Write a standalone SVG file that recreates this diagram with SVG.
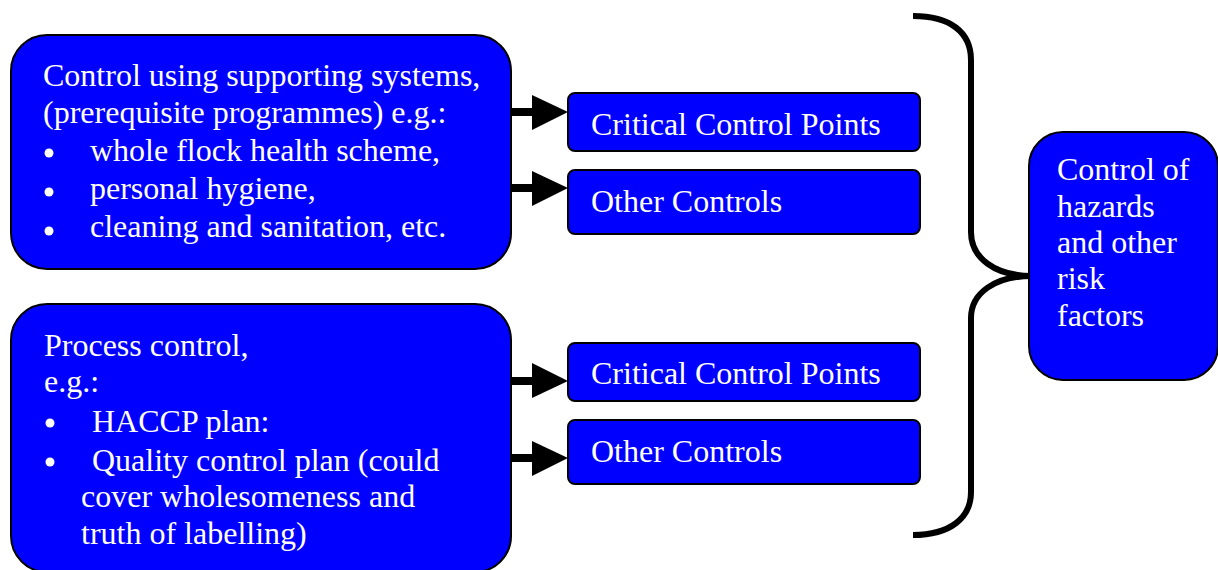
<svg xmlns="http://www.w3.org/2000/svg" width="1218" height="570" viewBox="0 0 1218 570">
<style>
.box{fill:#0000ff;stroke:#000;stroke-width:2}
.t{font-size:32px;fill:#fff}
.dot{fill:#fff}
.conn{stroke:#000;stroke-width:8;fill:none}
.head{fill:#000}
.brace{stroke:#000;stroke-width:6;fill:none;stroke-linecap:butt}
</style>
<rect width="1218" height="570" fill="#fff"/>
<g id="connectors">
<line class="conn" x1="511" y1="112" x2="534" y2="112"/>
<polygon class="head" points="532,95 568,112 532,130"/>
<line class="conn" x1="511" y1="188" x2="534" y2="188"/>
<polygon class="head" points="532,171 568,188 532,206"/>
<line class="conn" x1="511" y1="381" x2="534" y2="381"/>
<polygon class="head" points="532,363 568,381 532,398"/>
<line class="conn" x1="511" y1="458" x2="534" y2="458"/>
<polygon class="head" points="532,441 568,458 532,476"/>
<path class="brace" d="M913,16 C950,16 971,32 971,60 L971,232 C971,258 995,276 1032,276 C995,276 971,293 971,318 L971,492 C971,518 950,535 913,535"/>
</g>
<g font-family="'Liberation Serif', 'Times New Roman', Times, serif">
<g id="node-supporting">
<rect class="box" x="11" y="35" width="500" height="234" rx="36" ry="36"/>
<text class="t" x="43" y="86">Control using supporting systems,</text>
<text class="t" x="43" y="123">(prerequisite programmes) e.g.:</text>
<circle class="dot" cx="49" cy="153" r="4.5"/>
<text class="t" x="90" y="161">whole flock health scheme,</text>
<circle class="dot" cx="49" cy="192" r="4.5"/>
<text class="t" x="90" y="199">personal hygiene,</text>
<circle class="dot" cx="49" cy="231" r="4.5"/>
<text class="t" x="90" y="237">cleaning and sanitation, etc.</text>
</g>
<g id="node-process">
<rect class="box" x="11" y="304" width="500" height="268" rx="36" ry="36"/>
<text class="t" x="44" y="356">Process control,</text>
<text class="t" x="44" y="392">e.g.:</text>
<circle class="dot" cx="50" cy="423" r="4.5"/>
<text class="t" x="92" y="432">HACCP plan:</text>
<circle class="dot" cx="50" cy="462" r="4.5"/>
<text class="t" x="92" y="471">Quality control plan (could</text>
<text class="t" x="81" y="507">cover wholesomeness and</text>
<text class="t" x="81" y="544">truth of labelling)</text>
</g>
<g id="node-ccp1">
<rect class="box" x="568" y="93" width="352" height="58" rx="7" ry="7"/>
<text class="t" x="591" y="135">Critical Control Points</text>
</g>
<g id="node-other1">
<rect class="box" x="568" y="170" width="352" height="64" rx="7" ry="7"/>
<text class="t" x="591" y="212">Other Controls</text>
</g>
<g id="node-ccp2">
<rect class="box" x="568" y="343" width="352" height="58" rx="7" ry="7"/>
<text class="t" x="591" y="384">Critical Control Points</text>
</g>
<g id="node-other2">
<rect class="box" x="568" y="420" width="352" height="64" rx="7" ry="7"/>
<text class="t" x="591" y="462">Other Controls</text>
</g>
<g id="node-hazards">
<rect class="box" x="1029" y="132" width="189" height="248" rx="34" ry="34"/>
<text class="t" x="1057" y="180">Control of</text>
<text class="t" x="1057" y="217">hazards</text>
<text class="t" x="1057" y="253">and other</text>
<text class="t" x="1057" y="289">risk</text>
<text class="t" x="1057" y="326">factors</text>
</g>
</g>
</svg>
